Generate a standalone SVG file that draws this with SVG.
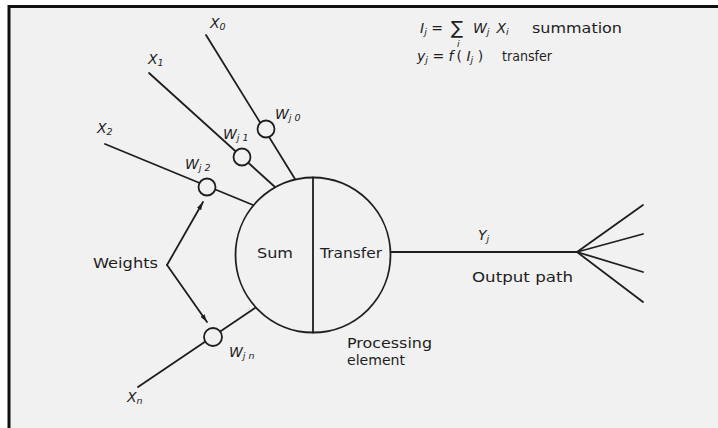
<svg xmlns="http://www.w3.org/2000/svg" width="718" height="428" viewBox="0 0 718 428">
<defs>
<style>
.ln{stroke:#1e1e1e;stroke-width:1.8;fill:none;stroke-linecap:round}
.nd{stroke:#1e1e1e;stroke-width:1.8;fill:#f1f1f1}
.t{font-family:"DejaVu Sans","Liberation Sans",sans-serif;fill:#1e1e1e;font-size:14px}
.m{font-family:"DejaVu Sans","Liberation Sans",sans-serif;fill:#1e1e1e;font-size:14px;font-style:italic}
.s{font-size:9.5px}
.sig{font-size:18px}
</style>
<marker id="ah" viewBox="0 0 10 6" refX="10" refY="3" markerWidth="8" markerHeight="5" orient="auto" markerUnits="userSpaceOnUse">
<path d="M0,0 L10,3 L0,6 Z" fill="#1e1e1e"/>
</marker>
</defs>
<rect x="0" y="0" width="718" height="428" fill="#ffffff"/>
<rect x="9" y="6.5" width="720" height="430" fill="#f1f1f1" stroke="#111" stroke-width="3"/>

<g id="connectors">
<line class="ln" x1="206" y1="35" x2="295" y2="179"/>
<line class="ln" x1="149" y1="73" x2="275" y2="187"/>
<line class="ln" x1="105" y1="144" x2="253" y2="205"/>
<line class="ln" x1="138" y1="387" x2="255" y2="308"/>
<line class="ln" x1="390" y1="252" x2="577" y2="252"/>
<line class="ln" x1="577" y1="252" x2="643" y2="205"/>
<line class="ln" x1="577" y1="252" x2="643" y2="234"/>
<line class="ln" x1="577" y1="252" x2="643" y2="272"/>
<line class="ln" x1="577" y1="252" x2="643" y2="302"/>
<line class="ln" x1="167" y1="265" x2="203" y2="202" marker-end="url(#ah)"/>
<line class="ln" x1="167" y1="265" x2="207" y2="322" marker-end="url(#ah)"/>
</g>

<g id="neuron">
<circle class="nd" cx="313" cy="255" r="77.5"/>
<line class="ln" x1="313" y1="177.5" x2="313" y2="332.5"/>
<text class="t" x="257" y="258" textLength="36" lengthAdjust="spacingAndGlyphs">Sum</text>
<text class="t" x="320" y="258" textLength="62" lengthAdjust="spacingAndGlyphs">Transfer</text>
</g>

<g id="weight-0">
<circle class="nd" cx="266" cy="129" r="8.5"/>
<text class="m" x="275" y="119">W<tspan class="s" dy="2">j 0</tspan></text>
</g>
<g id="weight-1">
<circle class="nd" cx="242" cy="157" r="8.5"/>
<text class="m" x="223" y="139">W<tspan class="s" dy="2">j 1</tspan></text>
</g>
<g id="weight-2">
<circle class="nd" cx="207" cy="187" r="8.5"/>
<text class="m" x="185" y="169">W<tspan class="s" dy="2">j 2</tspan></text>
</g>
<g id="weight-n">
<circle class="nd" cx="213" cy="337" r="9"/>
<text class="m" x="229" y="357">W<tspan class="s" dy="2">j n</tspan></text>
</g>

<g id="inputs">
<text class="m" x="210" y="28">X<tspan class="s" dy="2">0</tspan></text>
<text class="m" x="148" y="64">X<tspan class="s" dy="2">1</tspan></text>
<text class="m" x="97" y="133">X<tspan class="s" dy="2">2</tspan></text>
<text class="m" x="127" y="402">X<tspan class="s" dy="2">n</tspan></text>
</g>

<g id="weights-label">
<text class="t" x="93" y="268" textLength="65" lengthAdjust="spacingAndGlyphs">Weights</text>
</g>

<g id="output">
<text class="m" x="478" y="240">Y<tspan class="s" dy="2">j</tspan></text>
<text class="t" x="472" y="282" textLength="101" lengthAdjust="spacingAndGlyphs">Output path</text>
</g>

<g id="processing-label">
<text class="t" x="347" y="348" textLength="85" lengthAdjust="spacingAndGlyphs">Processing</text>
<text class="t" x="347" y="365" textLength="58" lengthAdjust="spacingAndGlyphs">element</text>
</g>

<g id="equations">
<text class="m" x="420" y="33">I<tspan class="s" dy="2">j</tspan><tspan dy="-2" font-style="normal"> =</tspan></text>
<text class="t sig" x="451" y="34">∑</text>
<text class="m s" x="457" y="47">i</text>
<text class="m" x="473" y="33">W<tspan class="s" dy="2">j</tspan><tspan dy="-2" dx="7">X</tspan><tspan class="s" dy="2">i</tspan></text>
<text class="t" x="532" y="33" textLength="90" lengthAdjust="spacingAndGlyphs">summation</text>
<text class="m" x="417" y="61">y<tspan class="s" dy="2">j</tspan><tspan dy="-2" font-style="normal"> = </tspan>f<tspan font-style="normal" dx="3">( </tspan>I<tspan class="s" dy="2">j</tspan><tspan dy="-2" font-style="normal"> )</tspan></text>
<text class="t" x="502" y="61" textLength="50" lengthAdjust="spacingAndGlyphs">transfer</text>
</g>
</svg>
